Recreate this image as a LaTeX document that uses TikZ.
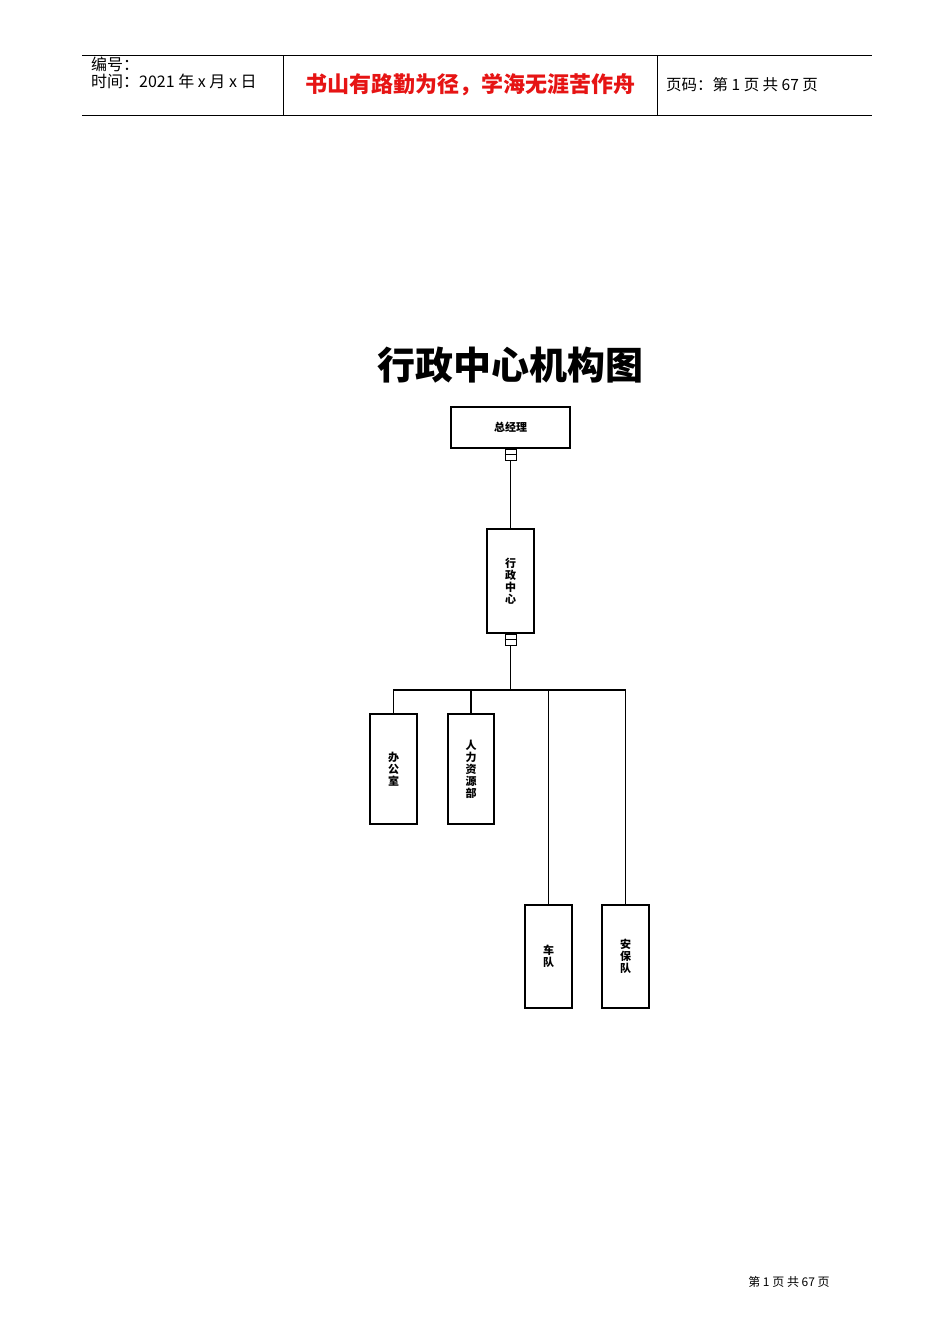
\documentclass[tikz,border=0pt]{standalone}
\usepackage{fontspec}
\newfontfamily\cjk{Noto Sans CJK SC}
\tikzset{box/.style={draw,line width=1.3pt,inner sep=0pt},
 vtxt/.style={font=\cjk\bfseries\fontsize{11}{12}\selectfont,align=center},
 ln/.style={line width=1.3pt},
 tab/.style={line width=0.9pt}}
\begin{document}
\begin{tikzpicture}[x=1pt,y=-1pt]
\useasboundingbox (0,0) rectangle (950,1344);
\fill[white] (0,0) rectangle (950,1344);
% header
\draw[tab] (82,55) -- (872,55); \draw[tab] (82,115) -- (872,115);
\draw[tab] (283,55) -- (283,115); \draw[tab] (657,55) -- (657,115);
\node[anchor=west,font=\cjk\fontsize{16}{17}\selectfont,align=left,inner sep=0] (h1) at (91,73) {编号：\\时间：2021 年 x 月 x 日};
\node[font=\cjk\bfseries\fontsize{22}{24}\selectfont,text={rgb,255:red,230;green,20;blue,20}] (h2) at (470,85) {书山有路勤为径，学海无涯苦作舟};
\node[anchor=west,font=\cjk\fontsize{15.5}{17}\selectfont,inner sep=0] (h3) at (666,85) {页码：第 1 页 共 67 页};
% title
\node[font=\cjk\bfseries\fontsize{38}{40}\selectfont] (title) at (510,365) {行政中心机构图};
% boxes
\node[box,minimum width=119pt,minimum height=41pt,font=\cjk\bfseries\fontsize{11}{12}\selectfont] (gm) at (510.5,427.5) {总经理};
\node[box,minimum width=47pt,minimum height=104pt,vtxt] (xz) at (510.5,581) {行\\政\\中\\心};
\node[box,minimum width=47pt,minimum height=110pt,vtxt] (bg) at (393.5,769) {办\\公\\室};
\node[box,minimum width=46pt,minimum height=110pt,vtxt] (rl) at (471,769) {人\\力\\资\\源\\部};
\node[box,minimum width=47pt,minimum height=103pt,vtxt] (cd) at (548.5,956.5) {车\\队};
\node[box,minimum width=47pt,minimum height=103pt,vtxt] (ab) at (625.5,956.5) {安\\保\\队};
% connector squares
\node[draw,line width=1pt,minimum width=11pt,minimum height=11pt,inner sep=0,anchor=north] (s1) at (gm.south) {};
\draw[line width=1pt] (s1.west) -- (s1.east);
\node[draw,line width=1pt,minimum width=11pt,minimum height=11pt,inner sep=0,anchor=north] (s2) at (xz.south) {};
\draw[line width=1pt] (s2.west) -- (s2.east);
\coordinate (j) at (510.5,690);
\draw[ln] (s1.south) -- (xz.north);
\draw[ln] (s2.south) -- (j);
\draw[ln] (bg.north) |- (j) -| (ab.north);
\draw[ln] (rl.north) -- (rl.north |- j);
\draw[ln] (cd.north) -- (cd.north |- j);
% footer
\node[font=\cjk\fontsize{12}{14}\selectfont] (ft) at (789,1282) {第 1 页 共 67 页};
\end{tikzpicture}
\end{document}
